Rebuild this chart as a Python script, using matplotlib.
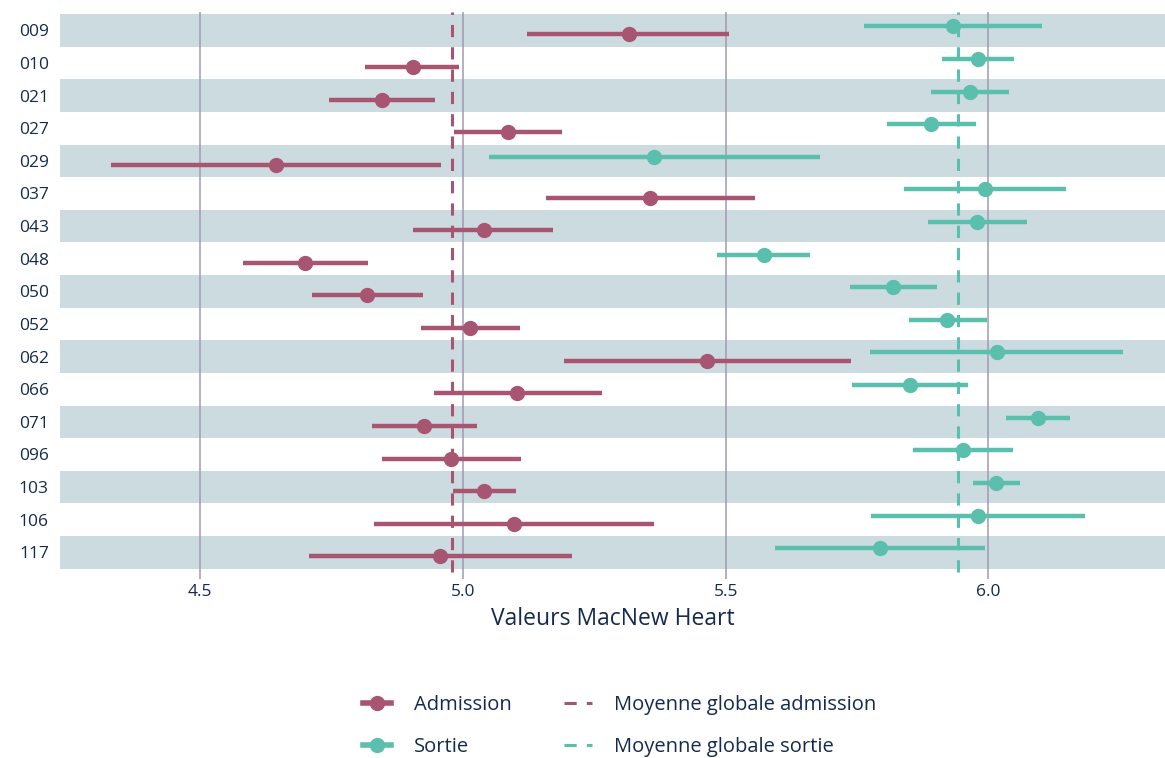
import matplotlib
matplotlib.use("Agg")
import matplotlib.pyplot as plt
from matplotlib.lines import Line2D
import numpy as np

plt.rcParams['font.family'] = ['Open Sans', 'DejaVu Sans']

# Patients, from top to bottom
patients = ['009', '010', '021', '027', '029', '037', '043', '048', '050',
            '052', '062', '066', '071', '096', '103', '106', '117']

# Admission: mean and interval bounds
adm_mean = [5.315, 4.904, 4.845, 5.085, 4.644, 5.356, 5.039, 4.700, 4.818,
            5.014, 5.464, 5.103, 4.926, 4.977, 5.040, 5.097, 4.957]
adm_low = [5.122, 4.814, 4.745, 4.982, 4.330, 5.157, 4.904, 4.582, 4.713,
           4.920, 5.192, 4.944, 4.827, 4.845, 4.980, 4.830, 4.706]
adm_high = [5.506, 4.993, 4.947, 5.188, 4.958, 5.555, 5.172, 4.819, 4.923,
            5.109, 5.738, 5.264, 5.026, 5.110, 5.100, 5.364, 5.208]

# Sortie: mean and interval bounds
sor_mean = [5.932, 5.980, 5.965, 5.891, 5.364, 5.993, 5.978, 5.572, 5.819,
            5.922, 6.016, 5.851, 6.095, 5.951, 6.015, 5.980, 5.793]
sor_low = [5.763, 5.911, 5.890, 5.806, 5.050, 5.840, 5.884, 5.483, 5.737,
           5.848, 5.775, 5.740, 6.034, 5.856, 5.971, 5.776, 5.594]
sor_high = [6.101, 6.049, 6.040, 5.977, 5.679, 6.147, 6.073, 5.661, 5.903,
            5.997, 6.257, 5.962, 6.156, 6.046, 6.060, 6.184, 5.993]

adm_global = 4.979
sor_global = 5.942

col_adm = '#a85571'
col_sor = '#5bbfae'
col_band = '#cbdbe0'
col_grid = '#9f9bb0'
col_text = '#142a4f'

fig = plt.figure(figsize=(11.65, 7.58), dpi=100)
ax = fig.add_axes([0.0515, 0.2365, 0.9485, 0.748])

n = len(patients)
y = np.arange(n)[::-1].astype(float)

# alternating background bands
for i, yy in enumerate(y):
    if i % 2 == 0:
        ax.axhspan(yy - 0.5, yy + 0.5, color=col_band, lw=0, zorder=0)

for xv in [4.5, 5.0, 5.5, 6.0]:
    ax.axvline(xv, color=col_grid, lw=1.1, zorder=1)

dodge = 0.125
ax.hlines(y - dodge, adm_low, adm_high, color=col_adm, lw=3.2, zorder=3)
ax.plot(adm_mean, y - dodge, 'o', color=col_adm, ms=10, zorder=4)
ax.hlines(y + dodge, sor_low, sor_high, color=col_sor, lw=3.2, zorder=3)
ax.plot(sor_mean, y + dodge, 'o', color=col_sor, ms=10, zorder=4)

ax.plot([adm_global, adm_global], [-0.6, n - 0.5 + 0.07], color=col_adm,
        lw=2.2, dashes=(4, 3.3), zorder=5)
ax.plot([sor_global, sor_global], [-0.6, n - 0.5 + 0.07], color=col_sor,
        lw=2.2, dashes=(4, 3.3), zorder=5)

ax.set_xlim(4.233, 6.336)
ax.set_ylim(-0.81, n - 0.5 + 0.07)
ax.set_yticks(y)
ax.set_yticklabels(patients)
ax.set_xticks([4.5, 5.0, 5.5, 6.0])
ax.set_xticklabels(['4.5', '5.0', '5.5', '6.0'])
ax.tick_params(length=0, labelsize=12.5, colors=col_text, pad=4)
ax.tick_params(axis='y', pad=8)
for s in ax.spines.values():
    s.set_visible(False)
ax.set_xlabel('Valeurs MacNew Heart', fontsize=16.5, color=col_text, labelpad=5)

handles = [
    Line2D([], [], color=col_adm, lw=4, marker='o', ms=10),
    Line2D([], [], color=col_sor, lw=4, marker='o', ms=10),
    Line2D([], [], color=col_adm, lw=2.2, dashes=(4, 3.3)),
    Line2D([], [], color=col_sor, lw=2.2, dashes=(4, 3.3)),
]
labels = ['Admission', 'Sortie', 'Moyenne globale admission', 'Moyenne globale sortie']
leg = fig.legend(handles, labels, loc='center', bbox_to_anchor=(0.532, 0.042),
                 ncol=2, frameon=False, fontsize=14.5, handlelength=1.4,
                 handletextpad=1.1, columnspacing=2.6, labelspacing=1.12)
for t in leg.get_texts():
    t.set_color(col_text)

fig.savefig('out.png', dpi=100, facecolor='white')
